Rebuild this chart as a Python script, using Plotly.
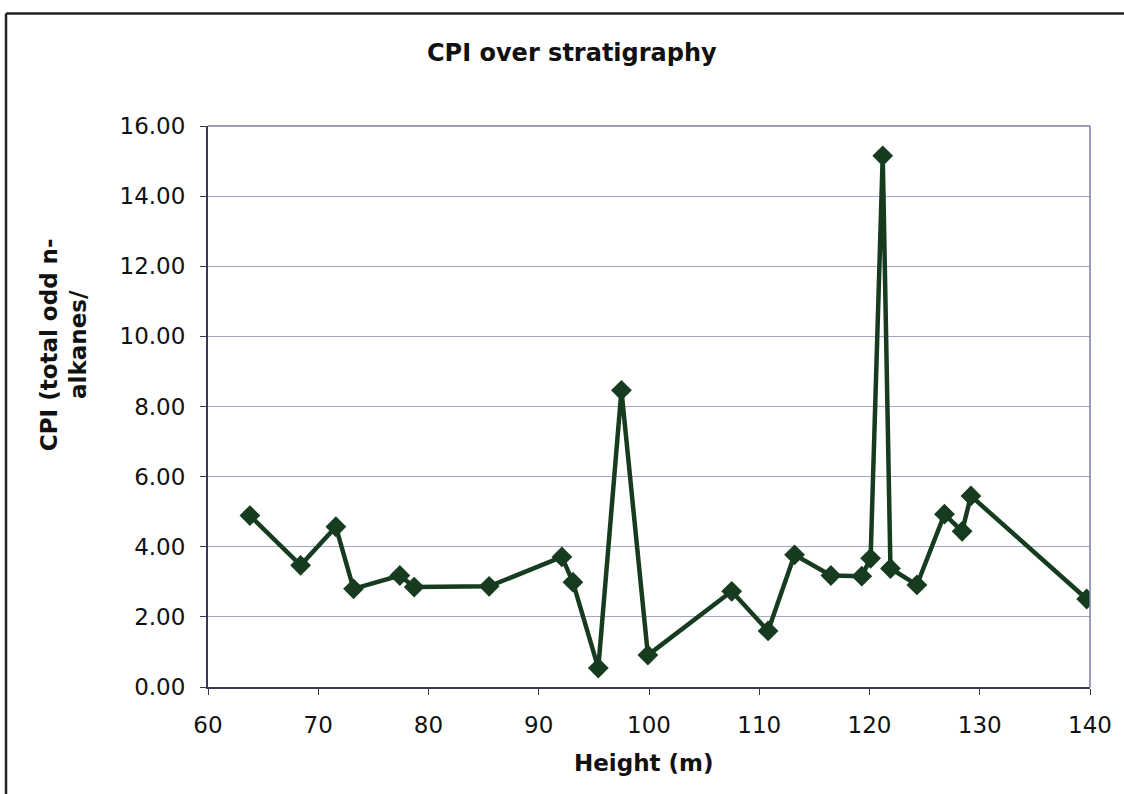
import plotly.graph_objects as go

# Sample heights in the section (m) and carbon preference index
height_m = [63.8, 68.4, 71.6, 73.2, 77.4, 78.7, 85.5, 92.1, 93.1, 95.4,
            97.5, 99.9, 107.5, 110.8, 113.2, 116.5, 119.3, 120.1, 121.2,
            121.9, 124.3, 126.8, 128.4, 129.2, 139.7]
cpi = [4.89, 3.47, 4.57, 2.80, 3.18, 2.85, 2.87, 3.71, 2.99, 0.54,
       8.46, 0.91, 2.73, 1.60, 3.77, 3.18, 3.16, 3.67, 15.15,
       3.38, 2.91, 4.93, 4.44, 5.45, 2.51]

x_ticks = [60, 70, 80, 90, 100, 110, 120, 130, 140]
y_ticks = [0, 2, 4, 6, 8, 10, 12, 14, 16]
y_tick_text = [f"{v:.2f}" for v in y_ticks]

LINE = "#173b1f"
FONT = "DejaVu Sans, Verdana, sans-serif"

fig = go.Figure(
    go.Scatter(
        x=height_m, y=cpi, mode="lines+markers",
        line=dict(color=LINE, width=4.5),
        marker=dict(symbol="diamond", size=16, color=LINE),
        showlegend=False,
    )
)

fig.update_layout(
    width=1124, height=794,
    margin=dict(l=208, r=31, t=126, b=107),
    paper_bgcolor="white", plot_bgcolor="white",
    font=dict(family=FONT, color="#111111", size=22),
)

fig.update_xaxes(
    range=[60, 140], tickvals=x_ticks, ticktext=[str(v) for v in x_ticks],
    showgrid=False, zeroline=False,
    showline=True, linecolor="#3a3a55", linewidth=2, mirror=False,
    ticks="outside", ticklen=6, tickcolor="#3a3a55", tickwidth=1,
    ticklabelstandoff=10,
    tickfont=dict(size=23),
)
fig.update_yaxes(
    range=[0, 16], tickvals=y_ticks, ticktext=y_tick_text,
    showgrid=True, gridcolor="#a4a6c6", gridwidth=1, zeroline=False,
    showline=True, linecolor="#3a3a55", linewidth=2, mirror=False,
    ticks="outside", ticklen=6, tickcolor="#3a3a55", tickwidth=1,
    ticklabelstandoff=10,
    tickfont=dict(size=23),
)

# Top and right border of the plot area
fig.add_shape(type="line", xref="paper", yref="paper", x0=0, x1=1, y0=1, y1=1,
              line=dict(color="#7a7ca8", width=1.5))
fig.add_shape(type="line", xref="paper", yref="paper", x0=1, x1=1, y0=0, y1=1,
              line=dict(color="#7a7ca8", width=1.5))

# Chart frame (top and left edges)
fig.add_shape(type="line", xref="paper", yref="paper",
              x0=-0.229, x1=1.1, y0=1.2005, y1=1.2005,
              line=dict(color="#222222", width=2.5))
fig.add_shape(type="line", xref="paper", yref="paper",
              x0=-0.229, x1=-0.229, y0=-0.25, y1=1.2005,
              line=dict(color="#222222", width=2.5))

fig.add_annotation(
    text="<b>CPI over stratigraphy</b>", xref="paper", yref="paper",
    x=0.4124, y=1.130, showarrow=False, xanchor="center", yanchor="middle",
    font=dict(size=24, family=FONT, color="#111111"),
)
fig.add_annotation(
    text="<b>Height (m)</b>", xref="paper", yref="paper",
    x=0.494, y=-0.1355, showarrow=False, xanchor="center", yanchor="middle",
    font=dict(size=23, family=FONT, color="#111111"),
)
fig.add_annotation(
    text="<b>CPI (total odd n-<br>alkanes/</b>", xref="paper", yref="paper",
    x=-0.164, y=0.610, showarrow=False, xanchor="center", yanchor="middle",
    textangle=-90, align="center",
    font=dict(size=23, family=FONT, color="#111111"),
)

fig.write_html("out.html")
